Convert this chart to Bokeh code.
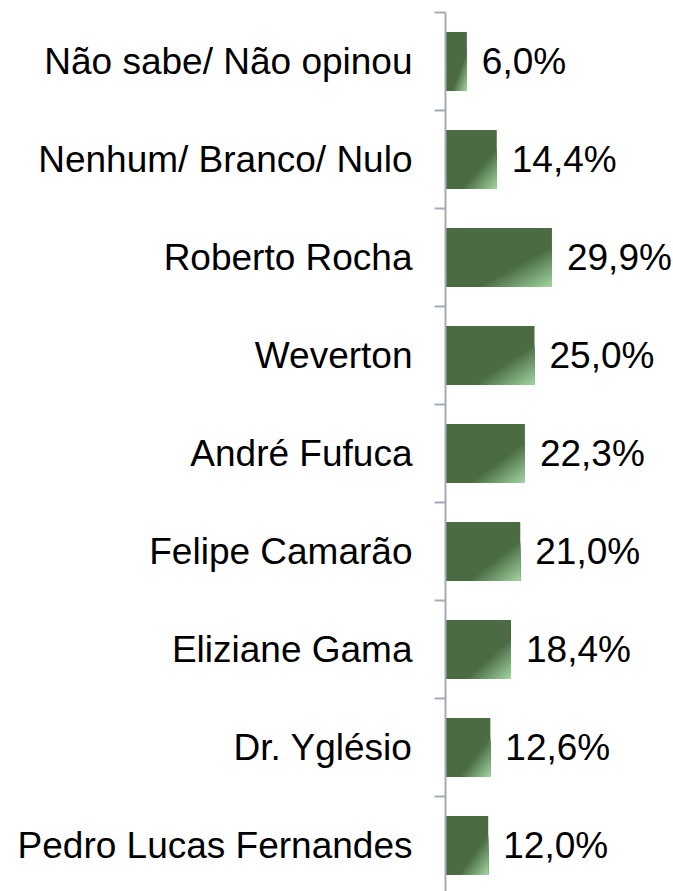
from bokeh.plotting import figure
from bokeh.models import Range1d, FixedTicker, ColumnDataSource
from bokeh.core.properties import value
from bokeh.embed import file_html
from bokeh.resources import INLINE

# Data (top to bottom as in the chart)
categories = [
    "Não sabe/ Não opinou",
    "Nenhum/ Branco/ Nulo",
    "Roberto Rocha",
    "Weverton",
    "André Fufuca",
    "Felipe Camarão",
    "Eliziane Gama",
    "Dr. Yglésio",
    "Pedro Lucas Fernandes",
]
values = [6.0, 14.4, 29.9, 25.0, 22.3, 21.0, 18.4, 12.6, 12.0]
value_labels = ["6,0%", "14,4%", "29,9%", "25,0%", "22,3%", "21,0%", "18,4%", "12,6%", "12,0%"]

n = len(categories)
ypos = [n - 0.5 - i for i in range(n)]
bar_h = 0.6

W, H = 673, 891
left_border = 445
top_border = 12
px_per_unit_x = 3.56
px_per_cat = 98.0
frame_w = W - left_border
frame_h = H - top_border

p = figure(
    width=W, height=H,
    output_backend="svg", toolbar_location=None,
    x_range=Range1d(0, frame_w / px_per_unit_x),
    y_range=Range1d(n - frame_h / px_per_cat, n),
    x_axis_location=None,
    min_border_left=left_border, min_border_right=0,
    min_border_top=top_border, min_border_bottom=0,
)
p.outline_line_color = None
p.grid.visible = False
p.background_fill_color = "white"
p.border_fill_color = "white"

dark = (0x4B, 0x6B, 0x43)
light = (0xA2, 0xD6, 0xA2)

src = ColumnDataSource(dict(y=ypos, right=values, lab=value_labels))
p.hbar(y="y", left=0, right="right", height=bar_h, source=src,
       fill_color="#%02x%02x%02x" % dark, line_color=None)

# gradient approximation: stacked triangles in the lower-right corner
steps = 16
t0 = 0.64
for k in range(1, steps + 1):
    t = t0 + (1 - t0) * k / (steps + 0.5)
    f = k / steps
    col = tuple(int(round(dark[j] + (light[j] - dark[j]) * f)) for j in range(3))
    xs, ys = [], []
    for yc, v in zip(ypos, values):
        L, R = 0.0, v
        B, T = yc - bar_h / 2, yc + bar_h / 2
        a = 2 * t - 1
        xs.append([R, L + (R - L) * a, R])
        ys.append([B, B, T - (T - B) * a])
    p.patches(xs, ys, fill_color="#%02x%02x%02x" % col, line_color=None)

p.text(x="right", y="y", text="lab", source=src, x_offset=15,
       text_baseline="middle", text_align="left",
       text_font=value("Liberation Sans"), text_font_size="37px",
       text_color="black")

ax = p.yaxis[0]
ax.ticker = FixedTicker(ticks=ypos, minor_ticks=list(range(0, n + 1)))
ax.major_label_overrides = {yc: c for yc, c in zip(ypos, categories)}
ax.major_tick_line_color = None
ax.major_tick_out = 0
ax.major_tick_in = 0
ax.minor_tick_out = 11
ax.minor_tick_in = 0
ax.minor_tick_line_color = "#a6abb3"
ax.minor_tick_line_width = 2
ax.axis_line_color = "#a6abb3"
ax.axis_line_width = 2
ax.major_label_standoff = 22
ax.major_label_text_font = "Liberation Sans"
ax.major_label_text_font_size = "37px"
ax.major_label_text_color = "black"

open("out.html", "w").write(file_html(p, INLINE))
